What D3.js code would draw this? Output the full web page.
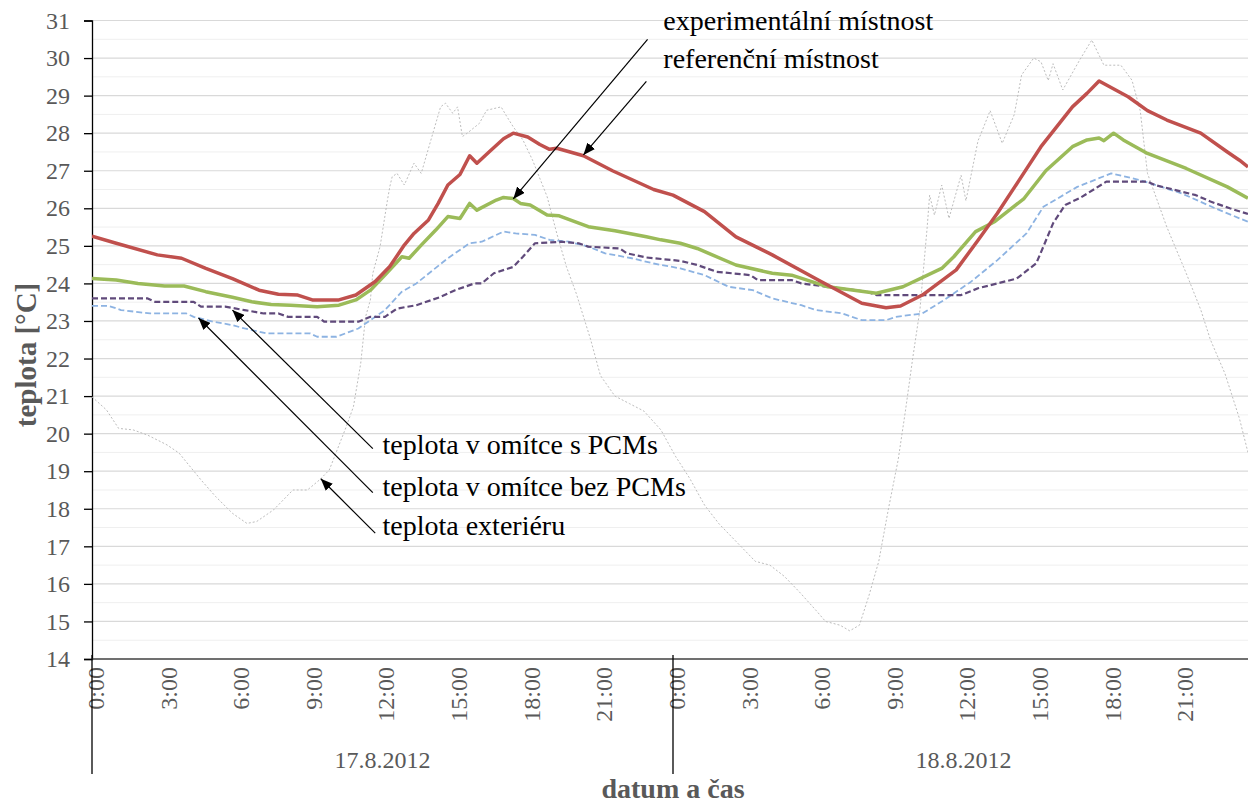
<!DOCTYPE html>
<html>
<head>
<meta charset="utf-8">
<script src="https://cdn.jsdelivr.net/npm/d3@7"></script>
<style>
  body { margin: 0; background: #fff; }
  svg { display: block; }
</style>
</head>
<body>
<svg class="canvas"></svg>
<script>
/*
	teplotni prubeh 17.8. - 18.8.2012, ref. vs. exp. mistnost
*/

var dwidth = 1248;
var dheight = 805;

// hodiny od 17.8. 0:00, teplota [°C]
var referencni = [[0,25.26],[1,25.07],[2.7,24.76],[3.7,24.67],[4.7,24.4],[5.8,24.13],[6.9,23.82],[7.7,23.71],[8.5,23.69],[9.1,23.56],[10.2,23.56],[10.9,23.69],[11.7,24.05],[12.3,24.45],[12.9,25.02],[13.3,25.33],[13.9,25.69],[14.3,26.13],[14.7,26.62],[15.2,26.9],[15.6,27.4],[15.9,27.2],[16.4,27.5],[17.0,27.85],[17.4,28.0],[18.0,27.9],[18.5,27.7],[18.9,27.57],[19.2,27.6],[20.3,27.4],[21.5,27.0],[23.2,26.5],[24.0,26.35],[25.3,25.91],[26.6,25.24],[28.1,24.76],[30.0,24.09],[31.8,23.47],[32.8,23.35],[33.4,23.4],[34.3,23.69],[35.7,24.36],[36.6,25.15],[37.4,25.87],[38.3,26.75],[39.2,27.64],[40.5,28.7],[41.1,29.06],[41.6,29.39],[42.8,28.97],[43.6,28.6],[44.4,28.35],[45.8,28.0],[46.9,27.5],[47.4,27.28],[47.75,27.1]];

var experimentalni = [[0,24.13],[1,24.09],[1.9,24.0],[3,23.93],[3.8,23.93],[4.7,23.78],[5.8,23.63],[6.6,23.51],[7.4,23.44],[8.2,23.42],[9.3,23.38],[10.2,23.42],[10.9,23.56],[11.5,23.82],[12.1,24.22],[12.8,24.71],[13.1,24.67],[13.6,25.02],[14.2,25.42],[14.7,25.78],[15.2,25.73],[15.6,26.13],[15.9,25.95],[16.7,26.22],[17.0,26.29],[17.4,26.26],[17.7,26.13],[18.1,26.09],[18.8,25.82],[19.3,25.8],[20.5,25.51],[21.6,25.4],[22.9,25.24],[23.5,25.16],[24.3,25.07],[25.0,24.93],[26.6,24.49],[28.1,24.27],[28.9,24.22],[30.4,23.91],[32.4,23.74],[33.5,23.91],[35.1,24.4],[35.6,24.71],[36.5,25.38],[37.3,25.65],[38.5,26.26],[39.4,27.0],[40.5,27.64],[41.1,27.82],[41.6,27.87],[41.8,27.8],[42.2,28.0],[42.6,27.82],[43.6,27.46],[45.2,27.06],[46.9,26.57],[47.75,26.27]];

var omitkaPCM = [[0,23.6],[2.3,23.6],[2.6,23.51],[4.2,23.51],[4.5,23.38],[5.5,23.38],[6.3,23.29],[7.1,23.2],[7.7,23.2],[8.1,23.11],[9.3,23.11],[9.6,22.98],[11.0,22.98],[11.5,23.11],[12.1,23.11],[12.6,23.33],[13.4,23.42],[14.4,23.64],[15.0,23.82],[15.8,24.0],[16.1,24.0],[16.6,24.27],[17.4,24.44],[17.8,24.71],[18.3,25.07],[19.4,25.11],[20.1,25.07],[20.5,24.98],[21.8,24.93],[22.1,24.8],[22.9,24.69],[24.3,24.6],[25.0,24.49],[25.8,24.31],[27.2,24.22],[27.5,24.09],[28.9,24.09],[29.3,24.0],[30.4,23.91],[32.0,23.78],[32.4,23.69],[35.9,23.69],[36.6,23.87],[38.2,24.13],[39.0,24.53],[39.3,24.98],[39.7,25.6],[40.2,26.09],[40.8,26.27],[41.9,26.71],[43.6,26.71],[43.9,26.62],[45.6,26.35],[46.2,26.18],[47.0,26.0],[47.75,25.85]];

var omitkaBezPCM = [[0,23.4],[0.7,23.4],[1.2,23.29],[2.4,23.2],[3.9,23.2],[4.2,23.11],[5.0,22.98],[5.8,22.89],[6.3,22.8],[7.2,22.67],[9.0,22.67],[9.3,22.58],[10.1,22.58],[11.0,22.8],[11.5,23.02],[12.1,23.29],[12.8,23.78],[13.4,24.0],[14.0,24.31],[14.7,24.67],[15.6,25.07],[16.1,25.11],[17.0,25.38],[17.5,25.33],[18.3,25.29],[18.9,25.16],[19.7,25.11],[20.5,24.98],[21.2,24.8],[22.3,24.67],[23.2,24.53],[24.3,24.4],[25.3,24.22],[26.3,23.91],[27.3,23.82],[28.1,23.6],[29.3,23.42],[29.9,23.29],[31.0,23.2],[31.8,23.02],[32.8,23.02],[33.2,23.11],[34.3,23.2],[35.2,23.56],[36.3,24.04],[37.4,24.62],[38.6,25.33],[39.3,26.04],[40.7,26.57],[42.1,26.93],[43.3,26.75],[45.0,26.4],[46.4,26.0],[47.75,25.64]];

var exterier = [[0,20.98],[0.6,20.63],[1.1,20.14],[1.7,20.1],[2.3,19.96],[3.1,19.7],[3.6,19.48],[4.5,18.77],[5.1,18.33],[5.8,17.88],[6.4,17.61],[6.8,17.66],[7.5,17.97],[8.3,18.5],[8.9,18.5],[9.4,18.77],[9.8,19.03],[10.5,20.18],[10.8,20.72],[11.1,21.87],[11.3,23.11],[11.5,23.56],[11.6,24.27],[11.9,24.98],[12.2,26.2],[12.3,26.57],[12.4,26.84],[12.6,26.93],[12.9,26.62],[13.3,27.2],[13.6,26.93],[14.0,27.82],[14.4,28.7],[14.6,28.8],[14.9,28.53],[15.1,28.7],[15.3,27.91],[15.5,28.0],[16.0,28.26],[16.3,28.61],[16.9,28.7],[17.1,28.48],[17.4,28.17],[17.8,27.82],[18.2,27.28],[18.8,26.31],[19.2,25.33],[19.6,24.44],[20.0,23.74],[20.6,22.5],[21.0,21.55],[21.6,21.0],[22.2,20.8],[22.8,20.6],[23.5,20.1],[24.1,19.4],[24.7,18.8],[25.3,18.1],[25.9,17.6],[26.8,17.0],[27.4,16.6],[28.0,16.5],[28.6,16.2],[29.2,15.8],[29.9,15.3],[30.3,15.0],[30.9,14.9],[31.3,14.75],[31.7,14.9],[32.1,15.7],[32.5,16.6],[32.9,18.0],[33.3,19.3],[33.6,20.6],[33.9,22.0],[34.2,23.3],[34.5,25.5],[34.6,26.35],[34.8,25.82],[35.1,26.62],[35.4,25.73],[35.9,26.88],[36.1,26.2],[36.6,27.8],[36.7,27.95],[37.1,28.6],[37.6,27.73],[38.1,28.5],[38.4,29.55],[38.9,30.0],[39.2,29.9],[39.5,29.4],[39.7,29.85],[40.1,29.15],[40.8,29.95],[41.3,30.48],[41.8,29.81],[42.5,29.81],[42.96,29.41],[43.3,28.6],[43.6,26.93],[44.4,25.5],[45.2,24.27],[45.8,23.3],[46.2,22.5],[46.8,21.6],[47.4,20.4],[47.75,19.5]];

var timeTicks = [0,3,6,9,12,15,18,21,24,27,30,33,36,39,42,45];
var days = [{from: 0, to: 24, label: "17.8.2012"}, {from: 24, to: 48, label: "18.8.2012"}];

// popisky se sipkami: [hodina, teplota] textu a hrotu
var notes = [
	{text: "experimentální místnost", tx: 23.6, ty: 30.75, from: [22.95, 30.5], to: [17.4, 26.25]},
	{text: "referenční místnost", tx: 23.6, ty: 29.73, from: [22.9, 29.38], to: [20.3, 27.42]},
	{text: "teplota v omítce s PCMs", tx: 12.0, ty: 19.45, from: [11.6, 19.6], to: [5.8, 23.29]},
	{text: "teplota v omítce bez PCMs", tx: 12.0, ty: 18.35, from: [11.6, 18.43], to: [4.4, 23.08]},
	{text: "teplota exteriéru", tx: 12.0, ty: 17.3, from: [11.7, 17.35], to: [9.45, 18.8]}
];

var canv = d3.select(".canvas").attr("width", dwidth).attr("height", dheight);

var sx = d3.scaleLinear().domain([0,48]).range([92, 1254]);
var sy = d3.scaleLinear().domain([14,31]).range([659, 20.5]);

var serif = "'Liberation Serif', 'Times New Roman', serif";

canv.append("defs").append("clipPath").attr("id", "plotclip")
	.append("rect").attr("x", 92).attr("y", 0).attr("width", dwidth - 92).attr("height", 660);

var arr = canv.select("defs").append("marker")
	.attr("id", "arrowhead")
	.attr("markerUnits", "userSpaceOnUse")
	.attr("viewBox", "0 0 12 10")
	.attr("refX", 12).attr("refY", 5)
	.attr("markerWidth", 12).attr("markerHeight", 10)
	.attr("orient", "auto");
arr.append("path").attr("d", "M0,0 L12,5 L0,10 z").attr("fill", "#000");

// gridlines - minor then major
var minor = d3.range(14.5, 31, 1);
var major = d3.range(15, 32, 1);
canv.append("g").selectAll("line").data(minor).enter().append("line")
	.attr("x1", 92).attr("x2", dwidth)
	.attr("y1", function(d) { return sy(d); }).attr("y2", function(d) { return sy(d); })
	.style("stroke", "#efefef").style("stroke-width", 1);
canv.append("g").selectAll("line").data(major).enter().append("line")
	.attr("x1", 92).attr("x2", dwidth)
	.attr("y1", function(d) { return sy(d); }).attr("y2", function(d) { return sy(d); })
	.style("stroke", "#d9d9d9").style("stroke-width", 1.2);

// y axis
var yAxis = d3.axisLeft(sy).tickValues(d3.range(14, 32, 1)).tickSize(8).tickPadding(14).tickFormat(d3.format("d"));
var gy = canv.append("g").attr("transform", "translate(92,0)").call(yAxis);
gy.select(".domain").style("stroke", "#000").style("stroke-width", 1.3);
gy.selectAll(".tick line").style("stroke", "#000").style("stroke-width", 1.3);
gy.selectAll(".tick text").style("font-family", serif).style("font-size", "24px").style("fill", "#595959");

// x axis (time labels)
var xAxis = d3.axisBottom(sx).tickValues(timeTicks).tickSize(0).tickFormat(function(d) { return (d % 24) + ":00"; });
var gx = canv.append("g").attr("transform", "translate(0,659)").call(xAxis);
gx.select(".domain").remove();
gx.selectAll(".tick text")
	.attr("transform", "rotate(-90)")
	.attr("x", -8).attr("y", 3).attr("dy", "0.35em")
	.style("text-anchor", "end")
	.style("font-family", serif).style("font-size", "24px").style("fill", "#595959");

canv.append("line")
	.attr("x1", 92).attr("x2", dwidth).attr("y1", sy(14)).attr("y2", sy(14))
	.style("stroke", "#404040").style("stroke-width", 1.5);

// day separators + date labels
canv.append("g").selectAll("line").data([0, 24]).enter().append("line")
	.attr("x1", function(d) { return sx(d); }).attr("x2", function(d) { return sx(d); })
	.attr("y1", 655).attr("y2", 774)
	.style("stroke", "#000").style("stroke-width", 1.3);
canv.append("g").selectAll("text").data(days).enter().append("text")
	.attr("x", function(d) { return sx((d.from + d.to) / 2); })
	.attr("y", 768)
	.text(function(d) { return d.label; })
	.style("text-anchor", "middle")
	.style("font-family", serif).style("font-size", "24px").style("fill", "#595959");

// axis titles
canv.append("text")
	.attr("x", sx(24)).attr("y", 798)
	.text("datum a čas")
	.style("text-anchor", "middle").style("font-weight", "bold")
	.style("font-family", serif).style("font-size", "28px").style("fill", "#595959");
canv.append("text")
	.attr("transform", "translate(36,355) rotate(-90)")
	.text("teplota [°C]")
	.style("text-anchor", "middle").style("font-weight", "bold")
	.style("font-family", serif).style("font-size", "29px").style("fill", "#595959");

// series
var line = d3.line().x(function(d) { return sx(d[0]); }).y(function(d) { return sy(d[1]); });
var series = [
	{data: exterier, color: "#bdbdbd", width: 1, dash: "2,2"},
	{data: omitkaBezPCM, color: "#8db3e2", width: 1.8, dash: "6,3"},
	{data: omitkaPCM, color: "#604a7b", width: 2.2, dash: "6,3"},
	{data: experimentalni, color: "#9bbb59", width: 3.5, dash: null},
	{data: referencni, color: "#c0504d", width: 3.5, dash: null}
];
var plot = canv.append("g").attr("clip-path", "url(#plotclip)");
plot.selectAll("path").data(series).enter().append("path")
	.attr("d", function(d) { return line(d.data); })
	.style("fill", "none")
	.style("stroke", function(d) { return d.color; })
	.style("stroke-width", function(d) { return d.width; })
	.style("stroke-dasharray", function(d) { return d.dash; })
	.style("stroke-linejoin", "round");

// annotations
var ann = canv.append("g");
ann.selectAll("line").data(notes).enter().append("line")
	.attr("x1", function(d) { return sx(d.from[0]); }).attr("y1", function(d) { return sy(d.from[1]); })
	.attr("x2", function(d) { return sx(d.to[0]); }).attr("y2", function(d) { return sy(d.to[1]); })
	.style("stroke", "#000").style("stroke-width", 1.2)
	.attr("marker-end", "url(#arrowhead)");
ann.selectAll("text").data(notes).enter().append("text")
	.attr("x", function(d) { return sx(d.tx); }).attr("y", function(d) { return sy(d.ty); })
	.text(function(d) { return d.text; })
	.style("font-family", serif).style("font-size", "28px").style("fill", "#000");
</script>
</body>
</html>
